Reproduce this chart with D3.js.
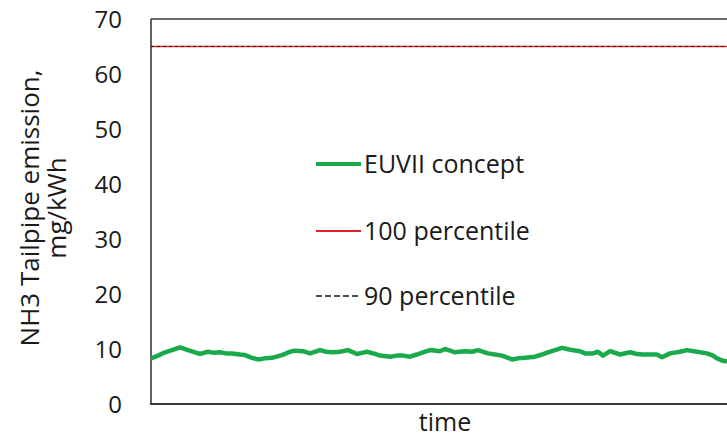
<!DOCTYPE html>
<html>
<head>
<meta charset="utf-8">
<script src="https://cdn.jsdelivr.net/npm/d3@7/dist/d3.min.js"></script>
<style>
  html, body { margin: 0; padding: 0; background: #fff; }
  svg { display: block; }
  text { font-family: "Open Sans", "Liberation Sans", sans-serif; fill: #1a1a1a; }
</style>
</head>
<body>
<svg id="chart" width="727" height="439"></svg>
<script>
// ---- data ----
const time = [0, 7, 14, 21, 29, 37, 44, 49, 57, 63, 69, 75, 81, 89, 94, 101, 107, 114, 121, 131,
  139, 144, 152, 159, 169, 175, 182, 189, 197, 206, 211, 216, 224, 229, 239, 246, 252, 259, 266, 272,
  279, 289, 294, 299, 304, 314, 321, 327, 337, 344, 351, 361, 367, 374, 384, 391, 397, 404, 411, 416,
  421, 429, 434, 442, 447, 452, 459, 469, 479, 486, 492, 499, 506, 511, 519, 529, 536, 546, 556, 562,
  566, 571, 576];
const euvii = [8.3, 8.8, 9.4, 9.8, 10.3, 9.8, 9.4, 9.1, 9.5, 9.3, 9.4, 9.2, 9.2, 9.0, 8.9, 8.4, 8.1, 8.3, 8.4, 8.9,
  9.5, 9.7, 9.6, 9.2, 9.8, 9.5, 9.4, 9.5, 9.8, 9.1, 9.3, 9.5, 9.1, 8.8, 8.6, 8.8, 8.8, 8.6, 9.0, 9.4,
  9.8, 9.6, 10.0, 9.7, 9.4, 9.6, 9.5, 9.8, 9.2, 9.0, 8.8, 8.1, 8.3, 8.4, 8.6, 9.0, 9.4, 9.8, 10.2, 10.0,
  9.8, 9.6, 9.2, 9.2, 9.5, 8.8, 9.6, 9.0, 9.4, 9.1, 9.0, 9.0, 9.0, 8.5, 9.2, 9.5, 9.8, 9.5, 9.2, 8.8,
  8.3, 7.9, 7.7];
const p100 = 65;
const p90 = 65;
const yTicks = [0, 10, 20, 30, 40, 50, 60, 70];
const legendLabels = ["EUVII concept", "100 percentile", "90 percentile"];
const yLabelLines = ["NH3 Tailpipe emission,", "mg/kWh"];
const xLabel = "time";

// ---- layout ----
const svg = d3.select("#chart");
const mLeft = 151, mRight = 727, mTop = 19, mBottom = 404;
const x = d3.scaleLinear().domain([0, d3.max(time)]).range([mLeft, mRight]);
const y = d3.scaleLinear().domain([0, 70]).range([mBottom, mTop]);

// y axis tick labels (no tick marks)
const yAxis = d3.axisLeft(y).tickValues(yTicks).tickSize(0).tickPadding(29);
const gy = svg.append("g").attr("transform", `translate(${mLeft},0)`).call(yAxis);
gy.select(".domain").remove();
gy.selectAll("text").style("font-size", "24px").attr("dy", "0.35em")
  .style("font-family", '"Open Sans", sans-serif').attr("fill", "#1a1a1a");

// frame lines
const axisColor = "#3a3a3a";
svg.append("line").attr("x1", mLeft).attr("x2", mLeft).attr("y1", mTop).attr("y2", mBottom)
  .attr("stroke", axisColor).attr("stroke-width", 1.6);
svg.append("line").attr("x1", mLeft).attr("x2", mRight).attr("y1", mTop).attr("y2", mTop)
  .attr("stroke", axisColor).attr("stroke-width", 1.4);
svg.append("line").attr("x1", mLeft - 1).attr("x2", mRight).attr("y1", mBottom).attr("y2", mBottom)
  .attr("stroke", axisColor).attr("stroke-width", 2);

// percentile lines
svg.append("line").attr("x1", mLeft).attr("x2", mRight).attr("y1", y(p100)).attr("y2", y(p100))
  .attr("stroke", "#e0202a").attr("stroke-width", 1.5);
svg.append("line").attr("x1", mLeft).attr("x2", mRight).attr("y1", y(p90)).attr("y2", y(p90))
  .attr("stroke", "#111").attr("stroke-width", 1.2).attr("stroke-dasharray", "3,3");

// EUVII series
const pts = time.map((t, i) => [t, euvii[i]]);
svg.append("path").datum(pts)
  .attr("fill", "none").attr("stroke", "#1aaa4c").attr("stroke-width", 4.5)
  .attr("stroke-linejoin", "round")
  .attr("d", d3.line().x(d => x(d[0])).y(d => y(d[1])));

// legend
const legY = [164, 231, 296];
const lg = svg.append("g");
lg.append("line").attr("x1", 316).attr("x2", 361).attr("y1", legY[0]).attr("y2", legY[0])
  .attr("stroke", "#1aaa4c").attr("stroke-width", 4);
lg.append("line").attr("x1", 316).attr("x2", 361).attr("y1", legY[1]).attr("y2", legY[1])
  .attr("stroke", "#e0202a").attr("stroke-width", 1.8);
lg.append("line").attr("x1", 316).attr("x2", 361).attr("y1", legY[2]).attr("y2", legY[2])
  .attr("stroke", "#111").attr("stroke-width", 1.6).attr("stroke-dasharray", "6,3");
legendLabels.forEach((l, i) => {
  lg.append("text").attr("x", 364).attr("y", legY[i]).attr("dy", "0.35em")
    .style("font-size", "25px").text(l);
});

// axis titles
const yl = svg.append("text").attr("transform", "translate(39,208) rotate(-90)")
  .attr("text-anchor", "middle").style("font-size", "26px");
yl.append("tspan").attr("x", 0).attr("dy", 0).text(yLabelLines[0]);
yl.append("tspan").attr("x", 0).attr("dy", 27).text(yLabelLines[1]);

svg.append("text").attr("x", 445).attr("y", 431).attr("text-anchor", "middle")
  .style("font-size", "25px").text(xLabel);
</script>
</body>
</html>
